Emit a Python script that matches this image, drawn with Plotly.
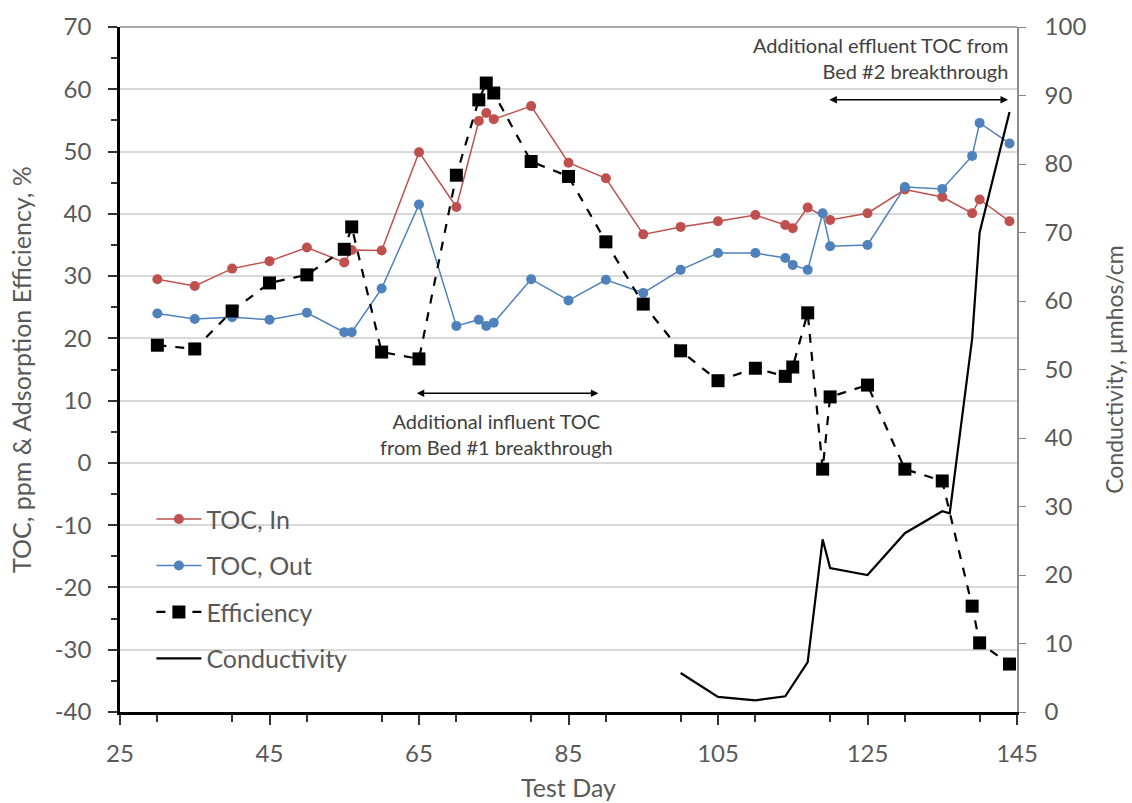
import plotly.graph_objects as go

days_in = [30, 35, 40, 45, 50, 55, 56, 60, 65, 70, 73, 74, 75, 80, 85, 90, 95, 100, 105, 110, 114, 115, 117, 120, 125, 130, 135, 139, 140, 144]
toc_in = [29.5, 28.4, 31.2, 32.4, 34.6, 32.2, 34.2, 34.1, 49.9, 41.1, 54.9, 56.2, 55.2, 57.3, 48.2, 45.7, 36.7, 37.9, 38.8, 39.8, 38.2, 37.7, 41.0, 39.0, 40.1, 43.9, 42.7, 40.1, 42.3, 38.8]

days_out = [30, 35, 40, 45, 50, 55, 56, 60, 65, 70, 73, 74, 75, 80, 85, 90, 95, 100, 105, 110, 114, 115, 117, 119, 120, 125, 130, 135, 139, 140, 144]
toc_out = [24.0, 23.1, 23.4, 23.0, 24.1, 21.0, 21.0, 28.0, 41.5, 22.0, 23.0, 22.0, 22.5, 29.5, 26.1, 29.4, 27.3, 31.0, 33.7, 33.7, 32.9, 31.8, 31.0, 40.1, 34.8, 35.0, 44.3, 44.0, 49.3, 54.6, 51.3]

days_eff = [30, 35, 40, 45, 50, 55, 56, 60, 65, 70, 73, 74, 75, 80, 85, 90, 95, 100, 105, 110, 114, 115, 117, 119, 120, 125, 130, 135, 139, 140, 144]
efficiency = [18.9, 18.3, 24.4, 28.9, 30.2, 34.3, 37.9, 17.8, 16.7, 46.2, 58.3, 61.0, 59.4, 48.4, 46.0, 35.5, 25.5, 18.0, 13.2, 15.2, 13.9, 15.4, 24.1, -1.0, 10.6, 12.5, -1.0, -2.9, -23.0, -28.9, -32.3]

days_cond = [100, 105, 110, 114, 117, 119, 120, 125, 130, 135, 136, 139, 140, 144]
conductivity = [5.7, 2.2, 1.7, 2.3, 7.3, 25.2, 21.0, 20.0, 26.1, 29.3, 29.0, 54.5, 70.0, 87.6]

x_ticks = [25, 45, 65, 85, 105, 125, 145]
y_ticks = [-40, -30, -20, -10, 0, 10, 20, 30, 40, 50, 60, 70]
y_tick_labels = ["-40", "-30", "-20", "-10", "0", "10", "20", "30", "40", "50", "60", "70"]

GRAY = "#595959"
FONT = "Lato, Open Sans, sans-serif"

fig = go.Figure()
fig.add_trace(go.Scatter(x=days_in, y=toc_in, name="TOC, In", mode="lines+markers",
                         line=dict(color="#C0504D", width=1.5),
                         marker=dict(symbol="circle", size=10, color="#C0504D"),
                         legendgroup="a"))
fig.add_trace(go.Scatter(x=days_out, y=toc_out, name="TOC, Out", mode="lines+markers",
                         line=dict(color="#4F81BD", width=1.5),
                         marker=dict(symbol="circle", size=10, color="#4F81BD"),
                         legendgroup="b"))
fig.add_trace(go.Scatter(x=days_eff, y=efficiency, name="Efficiency", mode="lines+markers",
                         line=dict(color="black", width=2.2, dash="dash"),
                         marker=dict(symbol="square", size=13, color="black"),
                         legendgroup="c"))
fig.add_trace(go.Scatter(x=days_cond, y=conductivity, name="Conductivity", mode="lines",
                         line=dict(color="black", width=2.2), yaxis="y2",
                         legendgroup="d"))

fig.update_layout(
    width=1132, height=803,
    margin=dict(l=120, r=115, t=27, b=91, autoexpand=False),
    paper_bgcolor="white", plot_bgcolor="white",
    font=dict(family=FONT, size=20, color=GRAY),
    showlegend=True,
    legend=dict(x=0.035, y=0.315, xanchor="left", yanchor="top",
                bgcolor="rgba(0,0,0,0)", traceorder="grouped", tracegroupgap=11,
                font=dict(size=25, color=GRAY), itemwidth=45),
    xaxis=dict(range=[25, 145], tickvals=x_ticks, ticks="outside", ticklen=10,
               tickwidth=1.5, tickcolor="#333", ticklabelstandoff=8, automargin=False,
               minor=dict(dtick=10, ticks="outside", ticklen=7, tickcolor="#333"),
               showline=True, linecolor="black", linewidth=2.5,
               showgrid=False, zeroline=False,
               title=dict(text="Test Day", standoff=14, font=dict(size=25, color=GRAY)),
               tickfont=dict(size=24, color=GRAY)),
    yaxis=dict(range=[-40, 70], tickvals=y_ticks, ticktext=y_tick_labels,
               ticks="outside", ticklen=9, tickwidth=1.5, automargin=False,
               tickcolor="#333", ticklabelstandoff=12,
               minor=dict(dtick=5, ticks="outside", ticklen=6, tickcolor="#333", showgrid=False),
               showline=True, linecolor="black", linewidth=2.5,
               showgrid=True, gridcolor="#D9D9D9", gridwidth=1.5, zeroline=False,
               title=dict(text="TOC, ppm & Adsorption Efficiency, %", standoff=16,
                          font=dict(size=25, color=GRAY)),
               tickfont=dict(size=24, color=GRAY)),
    yaxis2=dict(range=[0, 100], dtick=10, overlaying="y", side="right", automargin=False,
                ticks="outside", ticklen=7, tickcolor="#888", ticklabelstandoff=14,
                showline=True, linecolor="#8C8C8C", linewidth=1.5,
                showgrid=False, zeroline=False,
                title=dict(text="Conductivity, µmhos/cm", standoff=22,
                           font=dict(size=23, color=GRAY)),
                tickfont=dict(size=24, color=GRAY)),
)

# top border
fig.add_shape(type="line", xref="paper", yref="paper", x0=0, x1=1, y0=1, y1=1,
              line=dict(color="#8C8C8C", width=1.5))

# arrows
fig.add_annotation(x=89, y=11.2, ax=64.5, ay=11.2, xref="x", yref="y", axref="x", ayref="y",
                   text="", showarrow=True, arrowhead=2, arrowside="end+start",
                   arrowsize=1, arrowwidth=1.5, arrowcolor="black")
fig.add_annotation(x=143.8, y=58.3, ax=119.7, ay=58.3, xref="x", yref="y", axref="x", ayref="y",
                   text="", showarrow=True, arrowhead=2, arrowside="end+start",
                   arrowsize=1, arrowwidth=1.5, arrowcolor="black")
fig.add_annotation(x=75.4, y=9.0, xref="x", yref="y", yanchor="top", showarrow=False,
                   text="Additional influent TOC<br>from Bed #1 breakthrough",
                   font=dict(size=20, color="#404040"), align="center")
fig.add_annotation(x=144, y=70, xref="x", yref="y", xanchor="right", yanchor="top",
                   showarrow=False, yshift=-4,
                   text="Additional effluent TOC from<br>Bed #2 breakthrough",
                   font=dict(size=20, color="#404040"), align="right")

fig.write_html("out.html")
